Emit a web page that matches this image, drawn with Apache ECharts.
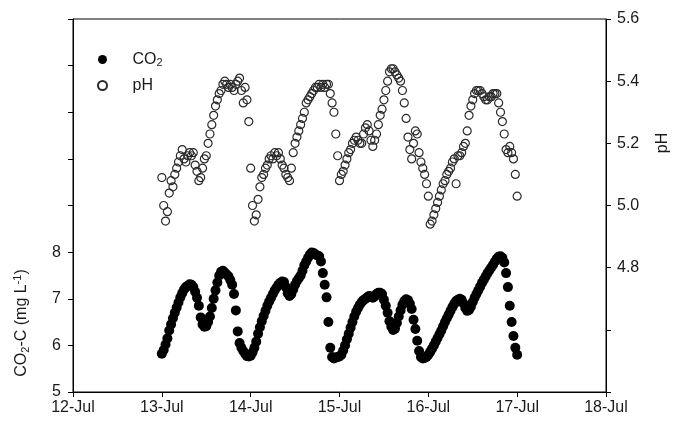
<!DOCTYPE html>
<html>
<head>
<meta charset="utf-8">
<title>CO2-C and pH, 13-17 Jul</title>
<script src="https://cdn.jsdelivr.net/npm/echarts@6/dist/echarts.min.js"></script>
<style>
  html, body { margin: 0; padding: 0; background: #fff; }
  #chart { width: 683px; height: 421px; }
</style>
</head>
<body>
<div id="chart"></div>
<script>
// ── Data (half-hourly samples from 13-Jul 00:00) ──────────────────────

const dayLabels = ["12-Jul", "13-Jul", "14-Jul", "15-Jul", "16-Jul", "17-Jul", "18-Jul"];
const startHour = 24;   // hours after 12-Jul 00:00
const stepHours = 0.5;

// CO2-C, mg L-1
const co2Jul13 = [
  5.82, 5.9, 6.02, 6.15, 6.32, 6.45, 6.58, 6.7,
  6.81, 6.92, 7.03, 7.12, 7.2, 7.25, 7.28, 7.31,
  7.3, 7.25, 7.15, 7.02, 6.85, 6.6, 6.45, 6.4,
  6.41, 6.5, 6.62, 6.8, 7.0, 7.18, 7.35, 7.5,
  7.58, 7.6, 7.56, 7.52, 7.48, 7.4, 7.3, 7.1,
  6.75, 6.3, 6.05, 5.95, 5.88, 5.82, 5.77, 5.76,
];
const co2Jul14 = [
  5.78, 5.85, 5.95, 6.08, 6.25, 6.39, 6.52, 6.63,
  6.74, 6.85, 6.94, 7.02, 7.1, 7.18, 7.24, 7.3,
  7.34, 7.37, 7.36, 7.25, 7.12, 7.06, 7.1, 7.2,
  7.3, 7.38, 7.44, 7.5, 7.6, 7.72, 7.8, 7.88,
  7.95, 7.99, 7.98, 7.95, 7.93, 7.91, 7.8, 7.55,
  7.3, 7.03, 6.5, 5.95, 5.75, 5.72, 5.74, 5.75,
];
const co2Jul15 = [
  5.76, 5.8, 5.89, 6.0, 6.13, 6.25, 6.38, 6.5,
  6.62, 6.72, 6.8, 6.87, 6.93, 6.97, 7.0, 7.03,
  7.06, 7.05, 7.02, 7.05, 7.1, 7.13, 7.13, 7.1,
  6.98, 6.85, 6.7, 6.52, 6.4, 6.33, 6.36, 6.48,
  6.62, 6.75, 6.87, 6.95, 6.99, 6.97, 6.9, 6.78,
  6.55, 6.35, 6.1, 5.88, 5.75, 5.72, 5.73, 5.75,
];
const co2Jul16 = [
  5.8, 5.86, 5.93, 6.0, 6.08, 6.16, 6.24, 6.32,
  6.41, 6.5, 6.58, 6.66, 6.74, 6.82, 6.89, 6.95,
  6.98, 7.0, 6.98, 6.9, 6.8, 6.74, 6.76, 6.83,
  6.93, 7.02, 7.1, 7.18, 7.26, 7.34, 7.41, 7.48,
  7.55, 7.61, 7.67, 7.73, 7.8, 7.86, 7.9, 7.91,
  7.88, 7.78, 7.55, 7.25, 6.85, 6.5, 6.2, 5.95, 5.8,
];

// pH
const phJul13 = [
  5.09, 5.0, 4.95, 4.98, 5.04, 5.08, 5.06, 5.1,
  5.12, 5.14, 5.16, 5.18, 5.15, 5.14, 5.16, 5.17,
  5.16, 5.17, 5.13, 5.11, 5.08, 5.09, 5.12, 5.15,
  5.16, 5.2, 5.23, 5.26, 5.29, 5.32, 5.34, 5.36,
  5.37, 5.39, 5.4, 5.39, 5.38, 5.39, 5.38, 5.37,
  5.39, 5.4, 5.41, 5.37, 5.33, 5.38, 5.34, 5.27,
];
const phJul14 = [
  5.12, 5.0, 4.95, 4.97, 5.02, 5.06, 5.09, 5.1,
  5.12, 5.13, 5.15, 5.16, 5.15, 5.17, 5.16, 5.17,
  5.15, 5.13, 5.12, 5.1, 5.09, 5.08, 5.12, 5.17,
  5.2, 5.22, 5.24, 5.26, 5.28, 5.3, 5.33, 5.34,
  5.35, 5.36, 5.37, 5.38, 5.38, 5.39, 5.38, 5.39,
  5.38, 5.39, 5.39, 5.36, 5.33, 5.3, 5.23, 5.16,
];
const phJul15 = [
  5.08, 5.1, 5.11, 5.13, 5.15, 5.17, 5.18, 5.2,
  5.21, 5.22, 5.21, 5.2, 5.2, 5.23, 5.25, 5.26,
  5.24, 5.21, 5.19, 5.21, 5.23, 5.26, 5.29, 5.31,
  5.34, 5.37, 5.4, 5.43, 5.44, 5.44, 5.43, 5.42,
  5.41, 5.4, 5.37, 5.33, 5.28, 5.22, 5.18, 5.15,
  5.2, 5.24, 5.23, 5.17, 5.14, 5.12, 5.1, 5.07,
];
const phJul16 = [
  5.03, 4.94, 4.95, 4.97, 4.99, 5.01, 5.03, 5.05,
  5.07, 5.08, 5.1, 5.11, 5.12, 5.14, 5.15, 5.07,
  5.16, 5.16, 5.17, 5.19, 5.2, 5.24, 5.29, 5.32,
  5.34, 5.36, 5.37, 5.37, 5.37, 5.36, 5.35, 5.34,
  5.34, 5.35, 5.35, 5.36, 5.36, 5.36, 5.33, 5.3,
  5.27, 5.23, 5.18, 5.17, 5.19, 5.17, 5.15, 5.1, 5.03,
];

// ── Chart ──────────────────────────────────────────────────────────────

const FONT = "'Liberation Sans', Arial, Helvetica, sans-serif";
const INK = "#1a1a1a";

function toPoints(values) {
  return values.map((v, i) => [startHour + i * stepHours, v]);
}

const co2Points = toPoints([...co2Jul13, ...co2Jul14, ...co2Jul15, ...co2Jul16]);
const phPoints = toPoints([...phJul13, ...phJul14, ...phJul15, ...phJul16]);

const subRich = {
  s: { fontSize: 11, fontFamily: FONT, color: INK, verticalAlign: "bottom", lineHeight: 10 },
  p: { fontSize: 11, fontFamily: FONT, color: INK, verticalAlign: "top", lineHeight: 10 },
};

const chart = echarts.init(document.getElementById("chart"));
chart.setOption({
  animation: false,
  backgroundColor: "#fff",
  grid: {
    left: 73, right: 77, top: 19, bottom: 29,
    show: true, borderColor: "#000", borderWidth: 1,
  },
  legend: {
    orient: "vertical",
    left: 92,
    top: 46,
    itemWidth: 50,
    itemHeight: 9,
    itemGap: 9,
    data: ["CO2", "pH"],
    formatter: (name) => (name === "CO2" ? "CO{s|2}" : name),
    textStyle: {
      fontFamily: FONT, fontSize: 16, color: INK, lineHeight: 17,
      rich: {
        s: { fontSize: 11, fontFamily: FONT, color: INK, verticalAlign: "bottom", lineHeight: 9 },
      },
    },
  },
  xAxis: {
    type: "value",
    min: 0,
    max: 144,
    interval: 24,
    axisLine: { lineStyle: { color: "#000", width: 1 } },
    axisTick: { length: 5, lineStyle: { color: "#000" } },
    splitLine: { show: false },
    axisLabel: {
      margin: 8,
      fontFamily: FONT, fontSize: 16, color: INK,
      formatter: (v) => dayLabels[Math.round(v / 24)] || "",
    },
  },
  yAxis: [
    {
      type: "value",
      position: "left",
      min: 5,
      max: 13,
      interval: 1,
      axisLine: { show: true, lineStyle: { color: "#000", width: 1 } },
      axisTick: { show: true, length: 5, lineStyle: { color: "#000" } },
      splitLine: { show: false },
      axisLabel: {
        margin: 12,
        fontFamily: FONT, fontSize: 16, color: INK,
        formatter: (v) => (v <= 8 ? String(v) : ""),
      },
    },
    {
      type: "value",
      position: "right",
      min: 4.4,
      max: 5.6,
      interval: 0.2,
      axisLine: { show: true, lineStyle: { color: "#000", width: 1 } },
      axisTick: { show: true, length: 5, lineStyle: { color: "#000" } },
      splitLine: { show: false },
      axisLabel: {
        margin: 11,
        fontFamily: FONT, fontSize: 16, color: INK,
        formatter: (v) => (v >= 4.79 ? v.toFixed(1) : ""),
      },
    },
  ],
  graphic: [
    {
      type: "text",
      x: 22,
      y: 323,
      rotation: Math.PI / 2,
      style: {
        text: "CO{s|2}-C (mg L{p|-1})",
        fontFamily: FONT, fontSize: 16, fill: INK, lineHeight: 19,
        align: "center", verticalAlign: "middle",
        rich: subRich,
      },
    },
    {
      type: "text",
      x: 663,
      y: 143,
      rotation: Math.PI / 2,
      style: {
        text: "pH",
        fontFamily: FONT, fontSize: 16, fill: INK,
        align: "center", verticalAlign: "middle",
      },
    },
  ],
  series: [
    {
      name: "CO2",
      type: "scatter",
      yAxisIndex: 0,
      symbol: "circle",
      symbolSize: 10,
      itemStyle: { color: "#000", opacity: 1 },
      data: co2Points,
    },
    {
      name: "pH",
      type: "scatter",
      yAxisIndex: 1,
      symbol: "circle",
      symbolSize: 8,
      itemStyle: { color: "rgba(255,255,255,0)", borderColor: "#2a2a2a", borderWidth: 1.2, opacity: 1 },
      data: phPoints,
    },
  ],
});
</script>
</body>
</html>
